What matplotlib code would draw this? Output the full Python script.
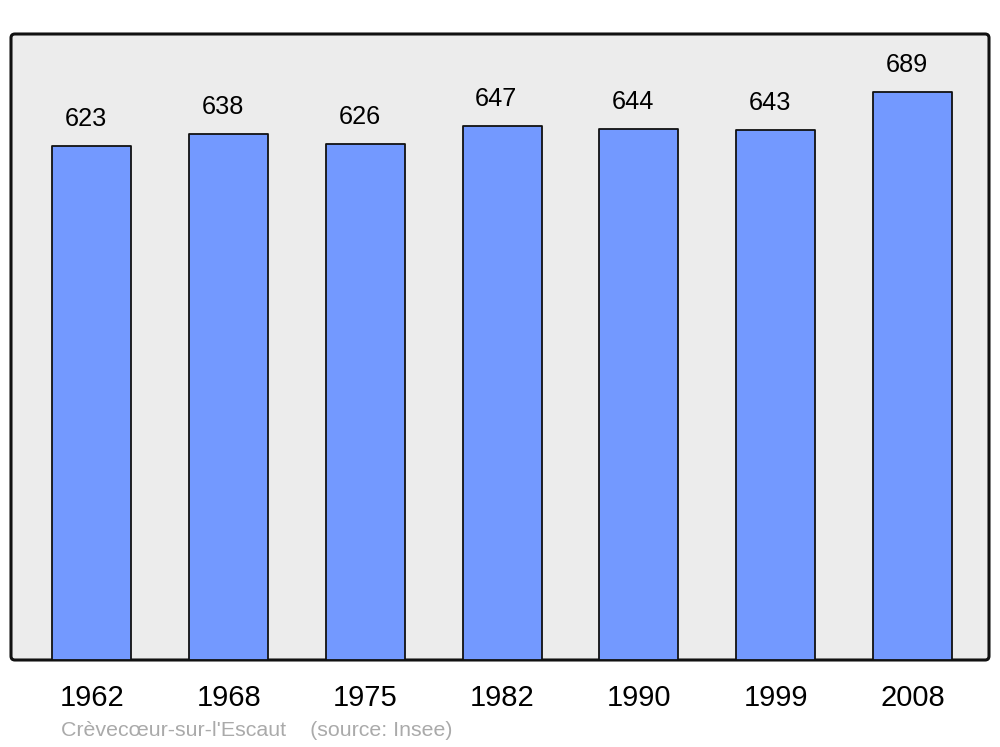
import matplotlib
matplotlib.use("Agg")
from matplotlib import pyplot as plt
from matplotlib.patches import FancyBboxPatch

plt.rcParams['font.family'] = ['Liberation Sans', 'DejaVu Sans']

years = ['1962', '1968', '1975', '1982', '1990', '1999', '2008']
population = [623, 638, 626, 647, 644, 643, 689]
caption = "Crèvecœur-sur-l'Escaut    (source: Insee)"

fig = plt.figure(figsize=(10, 7.47), dpi=100)
ax = fig.add_axes([0.011, 87 / 747, 0.978, 626 / 747])
ax.set_facecolor('none')
for s in ax.spines.values():
    s.set_visible(False)

# panel with rounded corners
panel = FancyBboxPatch((0, 0), 1, 1, boxstyle="round,pad=0,rounding_size=0.004",
                       transform=ax.transAxes, facecolor='#ececec', edgecolor='#111111',
                       linewidth=2.2, zorder=0, mutation_aspect=978 / 626, clip_on=False)
ax.add_patch(panel)

x = list(range(len(years)))
ax.bar(x, population, width=0.578, color='#7399ff', edgecolor='#111111',
       linewidth=1.3, zorder=2, joinstyle='round')

for xi, v in zip(x, population):
    ax.annotate(str(v), (xi, v), xytext=(-4.3, 19.4), textcoords='offset points',
                ha='center', va='center', fontsize=18.2, color='black')

ax.set_xlim(-0.592, 6.56)
ax.set_ylim(0, 759)
ax.set_yticks([])
ax.set_xticks(x)
ax.set_xticklabels(years, fontsize=21)
ax.tick_params(axis='x', length=0, pad=17.5)
for lbl in ax.get_xticklabels():
    lbl.set_x(lbl.get_position()[0])

fig.text(0.061, 1 - 730 / 747, caption, fontsize=15.4, color='#aaaaaa', ha='left', va='center')

fig.savefig('out.png', dpi=100)
